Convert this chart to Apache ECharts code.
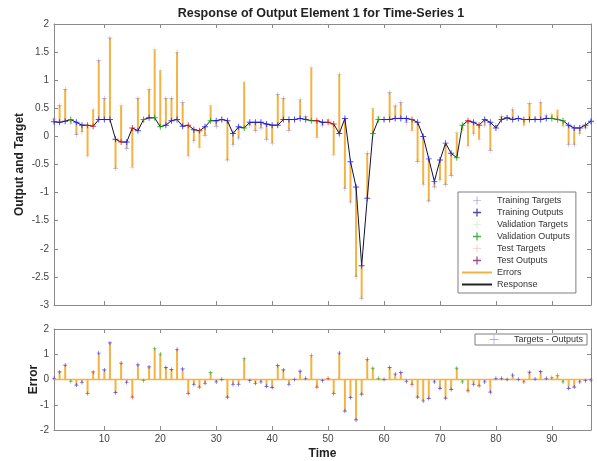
<!DOCTYPE html>
<html>
<head>
<meta charset="utf-8">
<script src="https://cdn.jsdelivr.net/npm/echarts@6/dist/echarts.min.js"></script>
<style>
  html, body { margin: 0; padding: 0; background: #ffffff; }
  #chart { width: 597px; height: 461px; }
</style>
</head>
<body>
<div id="chart"></div>
<script>
// Network targets at time steps 1..97
const targets = [
  0.31, 0.55, 0.84, 0.22, 0.03, 0.08, -0.35, 0.48, 1.35, 0.68,
  1.75, -0.57, 0.55, -0.22, -0.55, 0.68, 0.25, 0.83, 1.55, 1.18,
  0.68, 0.68, 1.50, 0.60, -0.35, -0.08, -0.20, 0.02, 0.55, 0.18,
  0.30, -0.42, -0.15, -0.03, 0.97, 0.20, 0.10, 0.15, -0.05, -0.12,
  0.75, 0.68, 0.11, 0.30, 0.65, 0.35, 1.23, -0.02, 0.20, 0.30,
  -0.33, 1.10, -0.93, -1.17, -2.50, -2.88, -0.30, 0.50, 0.35, 0.30,
  0.78, 0.54, 0.60, 0.24, 0.10, -0.45, -0.85, -1.15, -0.90, -0.77,
  -0.86, -0.70, 0.07, 0.10, -0.17, 0.05, -0.05, 0.20, -0.25, 0.20,
  0.35, 0.33, 0.48, 0.32, 0.20, 0.59, 0.32, 0.61, 0.37, 0.40,
  0.47, 0.18, -0.15, -0.15, 0.05, 0.15, 0.25
];

// Network outputs at the same time steps
const outputs = [
  0.26, 0.25, 0.27, 0.30, 0.25, 0.20, 0.20, 0.18, 0.30, 0.30,
  0.30, -0.05, -0.10, -0.10, 0.15, 0.10, 0.30, 0.33, 0.33, 0.17,
  0.20, 0.28, 0.30, 0.18, 0.20, 0.12, 0.10, 0.17, 0.28, 0.28,
  0.30, 0.28, 0.05, 0.17, 0.15, 0.25, 0.25, 0.25, 0.22, 0.20,
  0.20, 0.30, 0.30, 0.30, 0.32, 0.30, 0.28, 0.28, 0.25, 0.25,
  0.22, 0.05, 0.32, -0.45, -0.90, -2.30, -1.10, 0.05, 0.30, 0.30,
  0.30, 0.32, 0.32, 0.32, 0.30, 0.25, 0.00, -0.40, -0.80, -0.42,
  -0.12, -0.30, -0.38, 0.20, 0.28, 0.25, 0.20, 0.30, 0.25, 0.15,
  0.30, 0.33, 0.30, 0.32, 0.30, 0.30, 0.30, 0.30, 0.32, 0.32,
  0.30, 0.28, 0.20, 0.15, 0.15, 0.20, 0.27
];

// Data division of each time step: tr = training, va = validation, te = test
const division = [
  'tr','tr','tr','va','tr','tr','te','te','tr','tr',
  'tr','tr','te','tr','te','tr','va','tr','va','va',
  'tr','tr','tr','tr','te','tr','te','tr','va','tr',
  'tr','tr','tr','tr','va','tr','tr','tr','tr','tr',
  'tr','tr','tr','tr','tr','tr','va','te','tr','te',
  'te','tr','tr','tr','tr','tr','tr','va','va','tr',
  'tr','tr','tr','tr','te','tr','tr','tr','tr','tr',
  'tr','tr','va','va','te','tr','te','tr','tr','tr',
  'tr','tr','tr','tr','te','tr','tr','tr','tr','va',
  'va','va','tr','tr','tr','tr','tr'
];

const timeTicks = [10, 20, 30, 40, 50, 60, 70, 80, 90];

const FONT = '"Liberation Sans", Arial, Helvetica, sans-serif';
const ERR_COLOR = '#F4B243';
const AXIS_COLOR = '#8a8a8a';
const LABEL_COLOR = '#444444';

const PLUS = 'path://M4.2,0H5.8V4.2H10V5.8H5.8V10H4.2V5.8H0V4.2H4.2Z';
const PLUS_THIN = 'path://M4.6,0H5.4V4.6H10V5.4H5.4V10H4.6V5.4H0V4.6H4.6Z';
const LINE_ICON = 'path://M0,0H30V2H0Z';
// Plus centred in a 30x9 legend slot (tiny corner points keep the full slot width)
const PLUS_SLOT = 'path://M0,0H0.01V0.01H0Z M29.99,8.99H30V9H29.99Z M14.6,0H15.4V4.1H19.5V4.9H15.4V9H14.6V4.9H10.5V4.1H14.6Z';

const steps = targets.map((_, i) => i + 1);
const errors = targets.map((t, i) => +(t - outputs[i]).toFixed(2));

const sets = {
  tr: { label: 'Training',   out: '#1a1aff', tgt: '#7070c0' },
  va: { label: 'Validation', out: '#10a010', tgt: '#b8dcae' },
  te: { label: 'Test',       out: '#e01010', tgt: '#f0a0a0' }
};

function pick(values, code) {
  const res = [];
  steps.forEach((s, i) => { if (division[i] === code) res.push([s, values[i]]); });
  return res;
}

function xAxisCfg(grid, pos, withLabels) {
  return {
    type: 'value', gridIndex: grid, position: pos, min: 1, max: 97,
    axisLine: { show: true, onZero: false, lineStyle: { color: AXIS_COLOR, width: 1 } },
    axisTick: { show: true, inside: true, length: 4, customValues: timeTicks, lineStyle: { color: AXIS_COLOR } },
    axisLabel: withLabels
      ? { show: true, customValues: timeTicks, fontSize: 10, color: LABEL_COLOR, fontFamily: FONT, margin: 4 }
      : { show: false },
    splitLine: { show: false }
  };
}

function yAxisCfg(grid, pos, min, max, interval, withLabels) {
  return {
    type: 'value', gridIndex: grid, position: pos, min: min, max: max, interval: interval,
    axisLine: { show: true, onZero: false, lineStyle: { color: AXIS_COLOR, width: 1 } },
    axisTick: { show: true, inside: true, length: 4, lineStyle: { color: AXIS_COLOR } },
    axisLabel: withLabels
      ? { show: true, fontSize: 10, color: LABEL_COLOR, fontFamily: FONT, margin: 5 }
      : { show: false },
    splitLine: { show: false }
  };
}

function stemRender(params, api) {
  const a = api.coord([api.value(0), api.value(1)]);
  const b = api.coord([api.value(0), api.value(2)]);
  return {
    type: 'line',
    shape: { x1: a[0], y1: a[1], x2: b[0], y2: b[1] },
    style: { stroke: ERR_COLOR, lineWidth: 2 }
  };
}

const series = [];

// Errors between target and output in the response plot
series.push({
  name: 'Errors', type: 'custom', xAxisIndex: 0, yAxisIndex: 0, z: 1,
  itemStyle: { color: ERR_COLOR },
  renderItem: stemRender,
  encode: { x: 0, y: [1, 2] },
  data: steps.map((s, i) => [s, targets[i], outputs[i]])
});

// Response line through the outputs
series.push({
  name: 'Response', type: 'line', xAxisIndex: 0, yAxisIndex: 0, z: 2,
  symbol: 'none', color: '#111111',
  lineStyle: { color: '#111133', width: 1 },
  data: steps.map((s, i) => [s, outputs[i]])
});

['tr', 'va', 'te'].forEach(code => {
  const c = sets[code];
  series.push({
    name: c.label + ' Targets', type: 'scatter', xAxisIndex: 0, yAxisIndex: 0, z: 3,
    symbol: PLUS_THIN, symbolSize: 5, color: c.tgt, itemStyle: { color: c.tgt },
    data: pick(targets, code)
  });
  series.push({
    name: c.label + ' Outputs', type: 'scatter', xAxisIndex: 0, yAxisIndex: 0, z: 4,
    symbol: PLUS, symbolSize: 6, color: c.out, itemStyle: { color: c.out },
    data: pick(outputs, code)
  });
});

// Error plot: end markers, stems and zero reference line
['tr', 'va', 'te'].forEach(code => {
  const c = sets[code];
  series.push({
    name: 'Targets - Outputs', type: 'scatter', xAxisIndex: 2, yAxisIndex: 2, z: 3,
    symbol: PLUS, symbolSize: 4, itemStyle: { color: c.out },
    data: pick(errors, code)
  });
});
series.push({
  name: 'Targets - Outputs', type: 'custom', xAxisIndex: 2, yAxisIndex: 2, z: 2,
  itemStyle: { color: ERR_COLOR },
  renderItem: stemRender,
  encode: { x: 0, y: [1, 2] },
  data: steps.map((s, i) => [s, 0, errors[i]])
});
series.push({
  name: 'baseline', type: 'line', xAxisIndex: 2, yAxisIndex: 2, z: 1,
  symbol: 'none', silent: true,
  lineStyle: { color: ERR_COLOR, width: 1.5 },
  data: [[1, 0], [97, 0]]
});

const legendText = { fontSize: 9, color: '#333333', fontFamily: FONT };

const option = {
  animation: false,
  backgroundColor: '#ffffff',
  title: {
    text: 'Response of Output Element 1 for Time-Series 1',
    left: 316, top: 2, textAlign: 'center',
    textStyle: { fontSize: 12.5, fontWeight: 'bold', color: '#222222', fontFamily: FONT }
  },
  grid: [
    { left: 54, right: 6, top: 24, height: 281 },
    { left: 54, right: 6, top: 329, height: 101 }
  ],
  xAxis: [
    xAxisCfg(0, 'bottom', false),
    xAxisCfg(0, 'top', false),
    Object.assign(xAxisCfg(1, 'bottom', true), {
      name: 'Time', nameLocation: 'middle', nameGap: 18, nameMoveOverlap: false,
      nameTextStyle: { fontSize: 12, fontWeight: 'bold', color: '#222222', fontFamily: FONT }
    }),
    xAxisCfg(1, 'top', false)
  ],
  yAxis: [
    Object.assign(yAxisCfg(0, 'left', -3, 2, 0.5, true), {
      name: 'Output and Target', nameLocation: 'middle', nameGap: 28, nameMoveOverlap: false,
      nameTextStyle: { fontSize: 12, fontWeight: 'bold', color: '#222222', fontFamily: FONT }
    }),
    yAxisCfg(0, 'right', -3, 2, 0.5, false),
    Object.assign(yAxisCfg(1, 'left', -2, 2, 1, true), {
      name: 'Error', nameLocation: 'middle', nameGap: 14, nameMoveOverlap: false,
      nameTextStyle: { fontSize: 12, fontWeight: 'bold', color: '#222222', fontFamily: FONT }
    }),
    yAxisCfg(1, 'right', -2, 2, 1, false)
  ],
  legend: [
    {
      orient: 'vertical', left: 458, top: 192,
      padding: [4, 6, 4, 4], itemWidth: 30, itemHeight: 8, itemGap: 3,
      borderColor: '#7f7f7f', borderWidth: 1, backgroundColor: '#ffffff',
      selectedMode: false, textStyle: legendText,
      data: [
        { name: 'Training Targets', icon: PLUS_THIN, itemStyle: { color: sets.tr.tgt } },
        { name: 'Training Outputs', icon: PLUS, itemStyle: { color: '#1a1a8c' } },
        { name: 'Validation Targets', icon: PLUS_THIN, itemStyle: { color: sets.va.tgt } },
        { name: 'Validation Outputs', icon: PLUS, itemStyle: { color: sets.va.out } },
        { name: 'Test Targets', icon: PLUS_THIN, itemStyle: { color: sets.te.tgt } },
        { name: 'Test Outputs', icon: PLUS, itemStyle: { color: '#8c1a6a' } },
        { name: 'Errors', icon: LINE_ICON, itemStyle: { color: ERR_COLOR } },
        { name: 'Response', icon: LINE_ICON, itemStyle: { color: '#222222' } }
      ]
    },
    {
      orient: 'vertical', left: 475, top: 334,
      padding: [1, 4, 1, 4], itemWidth: 30, itemHeight: 9,
      borderColor: '#7f7f7f', borderWidth: 1, backgroundColor: '#ffffff',
      selectedMode: false, textStyle: legendText,
      data: [
        { name: 'Targets - Outputs', icon: PLUS_SLOT, itemStyle: { color: '#9a9ac8' } }
      ]
    }
  ],
  series: series
};

const chart = echarts.init(document.getElementById('chart'), null, { renderer: 'canvas' });
chart.setOption(option);
</script>
</body>
</html>
